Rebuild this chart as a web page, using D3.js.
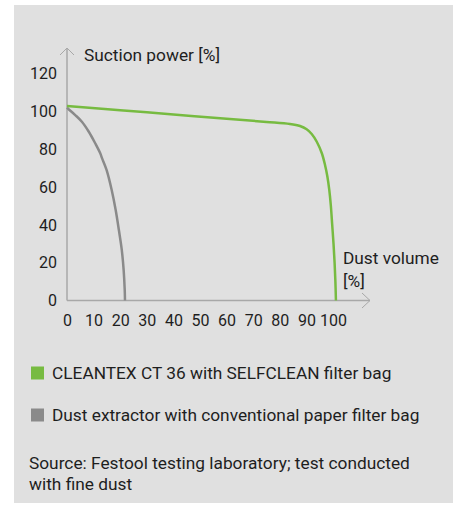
<!DOCTYPE html>
<html><head><meta charset="utf-8">
<script src="https://cdn.jsdelivr.net/npm/d3@7"></script>
<style>body{margin:0;background:#fff}svg{display:block}text{font-family:Roboto,"DejaVu Sans",sans-serif;fill:#1e1e1e}</style>
</head><body><svg id="c" width="461" height="520"></svg>
<script>
const xTicks = [0,10,20,30,40,50,60,70,80,90,100];
const yTicks = [0,20,40,60,80,100,120];
const cleantexX = [0, 20, 40, 60, 75, 83.8, 87.6, 90.1, 92, 93.9, 95.8, 97, 97.9, 98.6, 99.2, 99.7, 100.2, 100.6, 100.9, 101.1];
const cleantexY = [102.9, 100.7, 98.4, 96.2, 94.5, 93.4, 92.3, 90.6, 88.1, 84.0, 77.9, 71.7, 65.5, 58.5, 50, 40, 30, 20, 10, 0];
const paperX = [0, 0.6, 3.1, 5.6, 8.2, 10.6, 12.5, 13.2, 14.9, 16.8, 18.3, 19.5, 20.6, 21.3, 21.7, 21.8];
const paperY = [102, 101.2, 98.1, 94.6, 89.3, 83.2, 77.9, 75.2, 69.0, 58.5, 47.9, 37.3, 26.7, 16.1, 5.6, 0];
const legendLabels = ["CLEANTEX CT 36 with SELFCLEAN filter bag", "Dust extractor with conventional paper filter bag"];
const colors = ["#77bb41", "#8a8a8a"];
const yTitle = "Suction power [%]";
const xTitle = ["Dust volume", "[%]"];
const sourceLines = ["Source: Festool testing laboratory; test conducted", "with fine dust"];

const svg = d3.select("#c");
svg.append("rect").attr("x",14).attr("y",5).attr("width",439).attr("height",498).attr("fill","#e0e0e0");

const x = d3.scaleLinear().domain([0,100]).range([67,333]);
const y = d3.scaleLinear().domain([0,120]).range([300.5,73.7]);
const axisCol = "#a8a8a8";

svg.append("line").attr("x1",x(0)).attr("x2",370).attr("y1",y(0)).attr("y2",y(0)).attr("stroke",axisCol).attr("stroke-width",1.5);
svg.append("line").attr("x1",x(0)).attr("x2",x(0)).attr("y1",y(0)).attr("y2",48).attr("stroke",axisCol).attr("stroke-width",1.5);
svg.append("path").attr("d",`M${x(0)-7},55 L${x(0)},48 L${x(0)+7},55`).attr("fill","none").attr("stroke",axisCol).attr("stroke-width",1);
svg.append("path").attr("d",`M362,293 L370,${y(0)} L362,308`).attr("fill","none").attr("stroke",axisCol).attr("stroke-width",1);

const fs = 16;
const lfs = 17.3;
const gx = svg.append("g").attr("transform",`translate(0,${y(0)})`)
  .call(d3.axisBottom(x).tickValues(xTicks).tickSize(0).tickPadding(14));
gx.select(".domain").remove();
gx.selectAll("text").style("font-size",fs+"px").attr("fill","#1e1e1e").style("font-family","Roboto");

const gy = svg.append("g").attr("transform",`translate(57,0)`)
  .call(d3.axisLeft(y).tickValues(yTicks).tickSize(0).tickPadding(0));
gy.select(".domain").remove();
gy.selectAll("text").style("font-size",fs+"px").attr("fill","#1e1e1e").style("font-family","Roboto");

svg.append("text").attr("x",84).attr("y",61).style("font-size",lfs+"px").text(yTitle);
svg.append("text").attr("x",343).attr("y",264).style("font-size",lfs+"px").text(xTitle[0]);
svg.append("text").attr("x",343).attr("y",287).style("font-size",lfs+"px").text(xTitle[1]);

const line = d3.line().x(d=>x(d[0])).y(d=>y(d[1])).curve(d3.curveCatmullRom.alpha(0.5));
const series = [d3.zip(cleantexX, cleantexY), d3.zip(paperX, paperY)];
svg.append("path").datum(series[1]).attr("d",line).attr("fill","none").attr("stroke",colors[1]).attr("stroke-width",2.5);
svg.append("path").datum(series[0]).attr("d",line).attr("fill","none").attr("stroke",colors[0]).attr("stroke-width",2.5);

const legY = [379, 421];
legendLabels.forEach((t,i)=>{
  svg.append("rect").attr("x",31).attr("y",legY[i]-12.5).attr("width",13).attr("height",13).attr("fill",colors[i]);
  svg.append("text").attr("x",52).attr("y",legY[i]).style("font-size",lfs+"px").text(t);
});
sourceLines.forEach((t,i)=>{
  svg.append("text").attr("x",29).attr("y",469+i*21).style("font-size",lfs+"px").text(t);
});
</script></body></html>
